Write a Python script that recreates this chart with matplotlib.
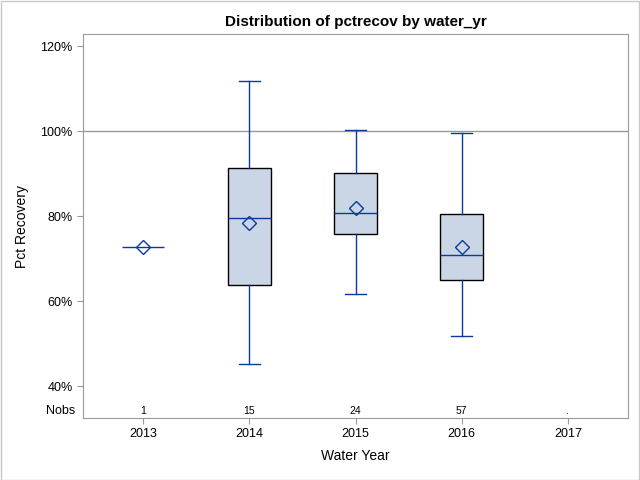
import numpy as np
import matplotlib.pyplot as plt
from matplotlib.ticker import FuncFormatter

plt.rcParams['font.family'] = ['Liberation Sans', 'DejaVu Sans']

years = ['2013', '2014', '2015', '2016', '2017']
nobs = ['1', '15', '24', '57', '.']
whislo = [72.8, 45.3, 61.6, 51.9]
q1 = [72.8, 63.7, 75.7, 64.9]
med = [72.8, 79.6, 80.7, 70.8]
q3 = [72.8, 91.3, 90.1, 80.5]
whishi = [72.8, 111.9, 100.3, 99.6]
means = [72.8, 78.4, 82.0, 72.8]

blue = '#0B3A9C'
grey = '#9A9A9A'

fig = plt.figure(figsize=(6.4, 4.8), dpi=100)
ax = fig.add_axes([0.1297, 0.1292, 0.8516, 0.7996])

stats = []
for i in range(len(whislo)):
    stats.append(dict(whislo=whislo[i], q1=q1[i], med=med[i], q3=q3[i],
                      whishi=whishi[i], mean=means[i], fliers=[]))

ax.axhline(100, color=grey, lw=1, zorder=1)
bp = ax.bxp(stats, positions=range(len(whislo)), widths=0.4, showmeans=True,
            patch_artist=True, manage_ticks=False,
            boxprops=dict(facecolor='#CAD5E5', edgecolor='black', lw=1),
            medianprops=dict(color=blue, lw=1),
            whiskerprops=dict(color=blue, lw=1),
            capprops=dict(color=blue, lw=1), capwidths=0.2,
            meanprops=dict(marker='D', markerfacecolor='none',
                           markeredgecolor=blue, markersize=7,
                           markeredgewidth=1))
# single observation: only the blue line shows
bp['boxes'][0].set_linewidth(0)
for c in bp['caps'][:2]:
    c.set_visible(False)

for i, n in enumerate(nobs):
    ax.text(i, 34.1, n, ha='center', va='center', fontsize=7.5)
fig.text(0.1297 - 0.012, 1 - 411 / 480, 'Nobs', ha='right', va='center',
         fontsize=9)

ax.set_xlim(-0.566, 4.566)
ax.set_ylim(32.5, 122.8)
ax.set_xticks(range(len(years)))
ax.set_xticklabels(years)
ax.set_yticks([40, 60, 80, 100, 120])
ax.yaxis.set_major_formatter(FuncFormatter(lambda v, p: '%d%%' % v))
ax.tick_params(colors=grey, labelcolor='black', labelsize=9, length=4)
for s in ax.spines.values():
    s.set_color(grey)

ax.set_xlabel('Water Year', fontsize=10, labelpad=6)
ax.set_ylabel('Pct Recovery', fontsize=10, labelpad=8)
ax.set_title('Distribution of pctrecov by water_yr', fontsize=11,
             fontweight='bold', pad=6)

fig.patches.append(plt.Rectangle((0.001, 0.001), 0.997, 0.997, fill=False,
                                 edgecolor='#C8C8C8', lw=1,
                                 transform=fig.transFigure))

fig.savefig('out.png', dpi=100)
